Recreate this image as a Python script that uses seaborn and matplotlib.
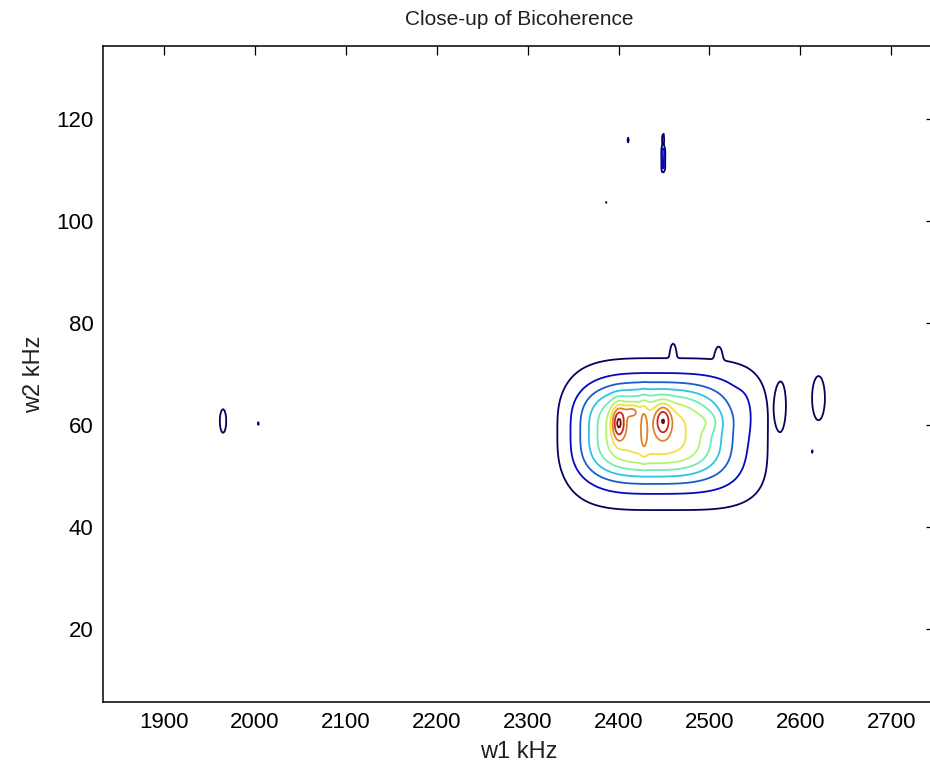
import numpy as np
import matplotlib
matplotlib.use("Agg")
import matplotlib.pyplot as plt
import seaborn as sns

# Frequency window shown (kHz)
w1_limits = (1833, 2748)
w2_limits = (5.7, 134.4)
w1_ticks = [1900, 2000, 2100, 2200, 2300, 2400, 2500, 2600, 2700]
w2_ticks = [20, 40, 60, 80, 100, 120]

# Bicoherence contour levels
levels = [0.05, 0.10, 0.15, 0.20, 0.25, 0.30, 0.35, 0.40, 0.45, 0.50]

# Bicoherence surface as a sum of shaped lumps:
# centre (w1, w2), half-widths (s1, s2), height, shape exponent
comp_w1 = [2453, 2437, 2400, 2449, 2428, 2414, 2500, 2460, 2510, 2538,
           2579, 2620, 2613, 1965, 2003.5, 2410.5, 2449, 2449, 2386]
comp_w2 = [58.2, 58.5, 60.5, 61.0, 59.5, 62.8, 60.7, 74.5, 73.8, 62.0,
           64.0, 65.3, 54.8, 60.8, 60.3, 115.9, 112.0, 116.0, 103.6]
comp_s1 = [113.7, 74, 7.4, 8.5, 3.7, 9.0, 14.0, 3.0, 3.5, 10.0,
           7.0, 10.0, 1.5, 5.1, 3.0, 3.0, 2.2, 2.0, 2.0]
comp_s2 = [15.3, 8.43, 3.4, 3.1, 5.0, 1.3, 2.2, 1.8, 1.8, 5.0,
           6.0, 6.2, 0.6, 3.4, 1.0, 1.6, 2.5, 2.2, 0.8]
comp_amp = [0.12, 0.26, 0.17, 0.13, 0.05, 0.075, 0.03, 0.06, 0.06, 0.02,
            0.05, 0.08, 0.056, 0.08, 0.055, 0.055, 0.11, 0.07, 0.056]
comp_pow = [4, 3, 2, 2, 2, 2, 2, 2, 2, 2,
            2, 2, 2, 2, 2, 2, 6, 2, 2]

w1 = np.arange(w1_limits[0], w1_limits[1] + 1.5, 1.5)
w2 = np.arange(w2_limits[0], w2_limits[1] + 0.4, 0.4)
W1, W2 = np.meshgrid(w1, w2)
bic = np.zeros_like(W1)
for c1, c2, s1, s2, a, p in zip(comp_w1, comp_w2, comp_s1, comp_s2, comp_amp, comp_pow):
    r = np.abs((W1 - c1) / s1) ** p + np.abs((W2 - c2) / s2) ** p
    bic += a * np.exp(-r)

sns.set_theme(style="white")
plt.rcParams["font.family"] = ["Liberation Sans", "DejaVu Sans"]

fig = plt.figure(figsize=(9.3, 7.7), dpi=100)
ax = fig.add_axes([103 / 930, 68 / 770, 832 / 930, 656.3 / 770])

# jet line colours, slightly muted
jet = plt.get_cmap("jet")
muted = []
for v in np.linspace(0, 1, len(levels)):
    rgb = np.array(jet(v)[:3])
    lum = 0.299 * rgb[0] + 0.587 * rgb[1] + 0.114 * rgb[2]
    muted.append(tuple(lum + 0.72 * (rgb - lum)))
line_colors = sns.color_palette(muted)
ax.contour(W1, W2, bic, levels=levels, colors=line_colors, linewidths=1.3)

ax.set_xlim(*w1_limits)
ax.set_ylim(*w2_limits)
ax.set_xticks(w1_ticks)
ax.set_yticks(w2_ticks)
ax.tick_params(direction="in", length=6.3, width=0.9, colors="black",
               top=True, right=True, labelsize=16, pad=7)
for s in ax.spines.values():
    s.set_visible(True)
    s.set_color("black")
    s.set_linewidth(1.1)

ax.set_title("Close-up of Bicoherence", fontsize=15, pad=15, color="#202020")
ax.set_xlabel("w1 kHz", fontsize=17, labelpad=6, color="#202020")
ax.set_ylabel("w2 kHz", fontsize=17, labelpad=8, color="#202020")

fig.savefig("out.png", dpi=100, facecolor="white")
